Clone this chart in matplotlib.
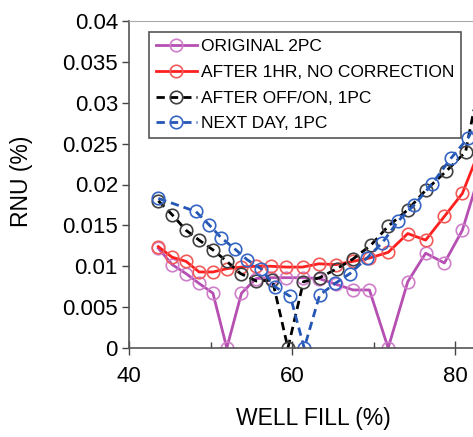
import matplotlib
matplotlib.use('Agg')
import matplotlib.pyplot as plt
from matplotlib.ticker import FixedLocator, FuncFormatter

plt.rcParams['font.family'] = ['Liberation Sans', 'DejaVu Sans']

# 数据
x_orig = [43.6, 45.3, 47.0, 48.6, 50.3, 52.0, 53.8, 55.6, 57.4, 59.3, 61.3,
          63.3, 65.4, 67.5, 69.5, 71.8, 74.2, 76.4, 78.7, 80.9, 84.0]
y_orig = [0.0122, 0.0102, 0.0091, 0.0079, 0.0067, 0.0, 0.0067, 0.0085, 0.0086,
          0.0086, 0.0086, 0.0085, 0.0078, 0.0071, 0.0071, 0.0, 0.0081, 0.0116,
          0.0104, 0.0144, 0.0245]
y_1hr = [0.0124, 0.0111, 0.0106, 0.0093, 0.0093, 0.0097, 0.0099, 0.0100, 0.0100,
         0.0099, 0.0099, 0.0103, 0.0102, 0.0106, 0.0110, 0.0117, 0.0140, 0.0132,
         0.0161, 0.0189, 0.0267]
x_offon = [43.6, 45.3, 47.0, 48.6, 50.3, 52.0, 53.7, 55.6, 57.6, 59.5, 61.4,
           63.4, 65.5, 67.5, 69.7, 71.8, 74.2, 76.4, 78.9, 81.3, 84.5]
y_offon = [0.0180, 0.0163, 0.0144, 0.0132, 0.0120, 0.0106, 0.0091, 0.0082, 0.0083,
           0.0, 0.0081, 0.0086, 0.0097, 0.0109, 0.0126, 0.0149, 0.0169, 0.0193,
           0.0216, 0.0240, 0.0400]
x_next = [43.6, 48.2, 49.8, 51.3, 53.0, 54.5, 56.2, 57.9, 59.8, 61.5, 63.4,
          65.3, 67.1, 69.2, 71.1, 73.0, 75.0, 77.2, 79.5, 81.6, 84.0]
y_next = [0.0183, 0.0167, 0.0151, 0.0135, 0.0121, 0.0108, 0.0097, 0.0075, 0.0063,
          0.0, 0.0065, 0.0079, 0.0091, 0.0110, 0.0129, 0.0155, 0.0175, 0.0201,
          0.0232, 0.0257, 0.0300]
labels = ['ORIGINAL 2PC', 'AFTER 1HR, NO CORRECTION', 'AFTER OFF/ON, 1PC', 'NEXT DAY, 1PC']

fig = plt.figure(figsize=(4.73, 4.37), dpi=100)
ax = fig.add_axes([129 / 473, 89 / 437, 344 / 473, 327 / 437])

ms = 9
ax.plot(x_orig, y_orig, color='#b54fb2', lw=2, marker='o', ms=ms, mfc='none',
        mec='#cf7fca', mew=1.2, label=labels[0])
ax.plot(x_orig, y_1hr, color='#ff1f1f', lw=2, marker='o', ms=ms, mfc='none',
        mec='#f25a5a', mew=1.2, label=labels[1])
ax.plot(x_offon, y_offon, color='black', lw=2, dashes=[3, 1.8], marker='o', ms=ms,
        mfc='none', mec='#404040', mew=1.2, label=labels[2])
ax.plot(x_next, y_next, color='#2456b4', lw=2, dashes=[3, 1.8], marker='o', ms=ms,
        mfc='none', mec='#3565c4', mew=1.2, label=labels[3])

ax.set_xlim(40, 40 + 344 / 8.15)
ax.set_ylim(0, 0.04)
ax.xaxis.set_major_locator(FixedLocator([40, 60, 80]))
ax.xaxis.set_minor_locator(FixedLocator([50, 70]))
ax.yaxis.set_major_locator(FixedLocator([i * 0.005 for i in range(9)]))
ax.yaxis.set_major_formatter(FuncFormatter(lambda v, p: '%g' % round(v, 4)))

ax.tick_params(axis='x', which='major', direction='inout', length=10, width=1,
               color='#444444', labelsize=16, pad=8)
ax.tick_params(axis='x', which='minor', direction='in', length=4, width=1, color='#444444')
ax.tick_params(axis='y', direction='out', length=5, width=1, color='#444444',
               labelsize=16, pad=3)

for s in ['left', 'bottom']:
    ax.spines[s].set_color('#555555')
    ax.spines[s].set_linewidth(1.2)
ax.spines['top'].set_color('#aaaaaa')
ax.spines['right'].set_visible(False)

ax.set_xlabel('WELL FILL (%)', fontsize=16.5)
ax.xaxis.set_label_coords(0.535, -0.18)
ax.set_ylabel('RNU (%)', fontsize=16.5)
ax.yaxis.set_label_coords(-0.28, 0.51)

leg = ax.legend(loc='upper left', bbox_to_anchor=(20 / 344, 1 - 11 / 327), fontsize=12.5,
                handlelength=2.4, handletextpad=0.2, labelspacing=0.62,
                borderpad=0.38, borderaxespad=0, fancybox=False, framealpha=1)
leg.get_frame().set_edgecolor('#555555')
leg.get_frame().set_linewidth(1.2)

fig.savefig('out.png', dpi=100)
